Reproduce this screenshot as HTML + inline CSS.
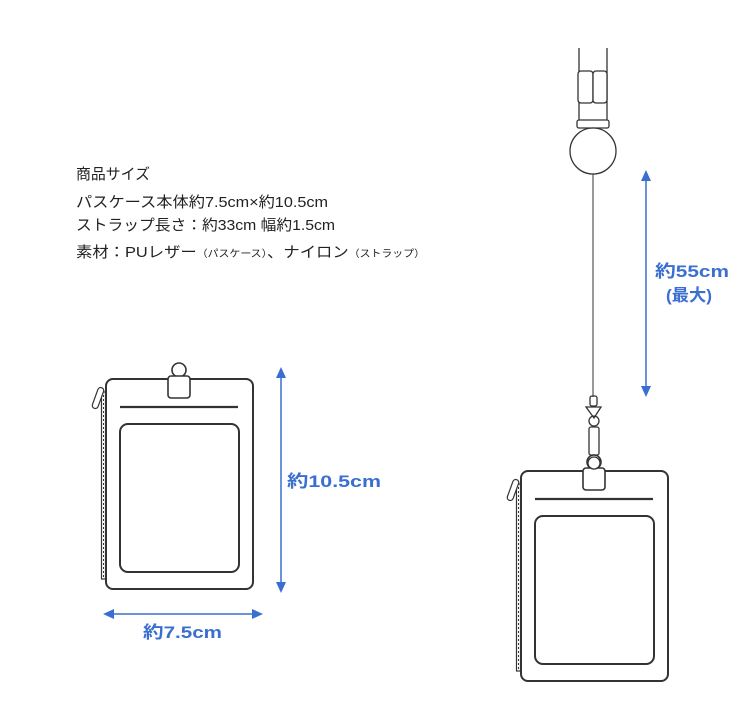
<!DOCTYPE html>
<html><head><meta charset="utf-8"><style>
body{margin:0;background:#fff;}
svg{display:block;}
</style></head><body>
<svg width="750" height="702" viewBox="0 0 750 702" xmlns="http://www.w3.org/2000/svg">
<defs>
<g id="case" fill="none" stroke="#333">
  <rect x="106" y="379" width="147" height="210" rx="7" stroke-width="2"/>
  <circle cx="179" cy="370" r="7" stroke-width="1.6" fill="#fff"/>
  <rect x="168" y="376" width="22" height="22" rx="3" stroke-width="1.6" fill="#fff"/>
  <line x1="120" y1="407" x2="238" y2="407" stroke-width="2.2"/>
  <rect x="120" y="424" width="119" height="148" rx="8" stroke-width="2"/>
  <rect x="101.5" y="392" width="4" height="187" stroke-width="1.2"/>
  <line x1="103.5" y1="395" x2="103.5" y2="577" stroke-width="1" stroke-dasharray="2,2"/>
  <rect x="95" y="387" width="6" height="22" rx="3" stroke-width="1.2" transform="rotate(20 98 398)" fill="#fff"/>
</g>
</defs>
<g font-family="'Liberation Sans','Noto Sans CJK JP',sans-serif" fill="#222" font-size="15">
<text x="76" y="179" textLength="74" lengthAdjust="spacingAndGlyphs">商品サイズ</text>
<text x="76" y="207" textLength="252" lengthAdjust="spacingAndGlyphs">パスケース本体約7.5cm×約10.5cm</text>
<text x="76" y="230" textLength="259" lengthAdjust="spacingAndGlyphs">ストラップ長さ：約33cm 幅約1.5cm</text>
<text x="76" y="257" textLength="349" lengthAdjust="spacingAndGlyphs">素材：PUレザー<tspan font-size="10">（パスケース）</tspan>、ナイロン<tspan font-size="10">（ストラップ）</tspan></text>
</g>
<use href="#case"/>
<use href="#case" transform="translate(415,92)"/>
<g fill="none" stroke="#333" stroke-width="1.3">
  <line x1="579" y1="48" x2="579" y2="121"/>
  <line x1="607" y1="48" x2="607" y2="121"/>
  <rect x="578" y="71" width="15" height="32" rx="3" fill="#fff"/>
  <rect x="593" y="71" width="14" height="32" rx="3" fill="#fff"/>
  <rect x="577" y="120" width="32" height="8" rx="2" fill="#fff"/>
  <circle cx="593" cy="151" r="23" fill="#fff"/>
  <line x1="593" y1="174" x2="593" y2="397" stroke-width="1"/>
  <rect x="590" y="396" width="7" height="10" rx="2"/>
  <path d="M586 407 L601 407 L594 418 Z"/>
  <circle cx="594" cy="421" r="5"/>
  <rect x="589" y="427" width="10" height="28" rx="2"/>
  <circle cx="594" cy="463" r="6" fill="#fff"/>
</g>
<g stroke="#3a6fd1" fill="#3a6fd1" stroke-width="1.5">
  <line x1="281" y1="372" x2="281" y2="588"/>
  <path d="M276 378 L286 378 L281 367 Z" stroke="none"/>
  <path d="M276 582 L286 582 L281 593 Z" stroke="none"/>
  <line x1="108" y1="614" x2="258" y2="614"/>
  <path d="M114 609 L114 619 L103 614 Z" stroke="none"/>
  <path d="M252 609 L252 619 L263 614 Z" stroke="none"/>
  <line x1="646" y1="175" x2="646" y2="392"/>
  <path d="M641 181 L651 181 L646 170 Z" stroke="none"/>
  <path d="M641 386 L651 386 L646 397 Z" stroke="none"/>
</g>
<g font-family="'Liberation Sans','Noto Sans CJK JP',sans-serif" fill="#3a6fd1" font-weight="bold" font-size="17">
<text x="287" y="487" textLength="94" lengthAdjust="spacingAndGlyphs">約10.5cm</text>
<text x="143" y="638" textLength="79" lengthAdjust="spacingAndGlyphs">約7.5cm</text>
<text x="655" y="277" textLength="74" lengthAdjust="spacingAndGlyphs">約55cm</text>
<text x="666" y="301" textLength="46" lengthAdjust="spacingAndGlyphs">(最大)</text>
</g>
</svg>
</body></html>
